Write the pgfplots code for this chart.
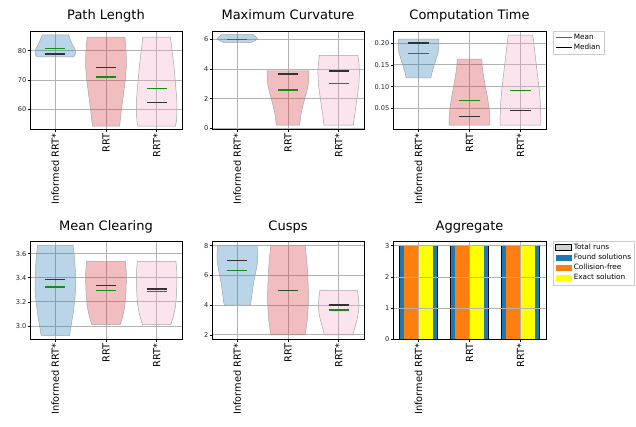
\documentclass[border=0pt]{standalone}
\usepackage{fontspec}
\setmainfont{DejaVu Sans}
\usepackage{pgfplots}
\pgfplotsset{compat=1.18, /pgf/number format/assume math mode=true}
\definecolor{cblue}{HTML}{1F77B4}
\definecolor{cred}{HTML}{D62728}
\definecolor{cpink}{HTML}{F7A6C9}
\definecolor{mgreen}{HTML}{108F10}
\definecolor{tblue}{HTML}{1F77B4}
\definecolor{torange}{HTML}{FF7F0E}
\definecolor{tyellow}{HTML}{FFFF00}
\pgfplotsset{
  vio/.style={
    scale only axis, width=152pt, height=98.5pt, anchor=south west,
    xmin=0.5, xmax=3.5, xtick={1,2,3}, xticklabels={Informed RRT*,RRT,RRT*},
    xticklabel style={rotate=90, anchor=east, font=\fontsize{9.8}{10}\selectfont, inner sep=1.5pt},
    yticklabel style={font=\fontsize{6.6}{7}\selectfont, inner sep=1pt, text=black!85},
    tick align=outside, xtick pos=bottom, ytick pos=left, major tick length=2.5pt,
    tick style={black, line width=0.6pt},
    grid=major, grid style={black!30, line width=0.8pt},
    axis line style={line width=0.8pt},
    title style={font=\fontsize{13}{14}\selectfont, anchor=base, at={(0.5,1)}, yshift=5pt},
  },
  vedge/.style={draw=black!35, line width=0.5pt},
  vA/.style={fill=cblue, fill opacity=0.3, vedge},
  vB/.style={fill=cred, fill opacity=0.3, vedge},
  vC/.style={fill=cpink, fill opacity=0.3, vedge},
  mean/.style={mgreen, line width=1.3pt},
  med/.style={black!80, line width=1.3pt},
  leg/.style={legend style={at={(1.045,1.005)}, anchor=north west, draw=black!20,
      fill=white, font=\fontsize{7.3}{8.5}\selectfont, inner sep=2pt,
      nodes={inner sep=1.5pt}, cells={anchor=west}}},
}
\begin{document}
\begin{tikzpicture}
\path[use as bounding box, clip] (0,0) rectangle (636pt,426pt);
\fill[white] (0,0) rectangle (636pt,426pt);

% ---------- Path Length ----------
\begin{axis}[vio, at={(30pt,296.5pt)}, ymin=53.15, ymax=86.7, ytick={60,70,80}, title={Path Length}]
\addplot[vA] coordinates {(0.64,77.9)(0.61,78.5)(0.60,79.5)(0.61,80.5)(0.66,82)(0.70,83.5)(0.74,85.4)
 (1.26,85.4)(1.30,83.5)(1.34,82)(1.39,80.5)(1.40,79.5)(1.39,78.5)(1.36,77.9)(0.64,77.9)};
\addplot[vB] coordinates {(1.73,54.3)(1.71,58)(1.68,62)(1.65,66)(1.62,70)(1.60,74)(1.60,78)(1.61,82)(1.63,84.6)
 (2.37,84.6)(2.39,82)(2.40,78)(2.40,74)(2.38,70)(2.35,66)(2.32,62)(2.29,58)(2.27,54.3)(1.73,54.3)};
\addplot[vC] coordinates {(2.63,54.3)(2.61,56)(2.60,59)(2.60,63)(2.62,67)(2.64,71)(2.66,75)(2.69,79)(2.71,82)(2.73,84.6)
 (3.27,84.6)(3.29,82)(3.31,79)(3.34,75)(3.36,71)(3.38,67)(3.40,63)(3.40,59)(3.39,56)(3.37,54.3)(2.63,54.3)};
\addplot[med] coordinates {(0.8,78.9)(1.2,78.9)};
\addplot[med] coordinates {(1.8,74.2)(2.2,74.2)};
\addplot[med] coordinates {(2.8,62.4)(3.2,62.4)};
\addplot[mean] coordinates {(0.8,80.7)(1.2,80.7)};
\addplot[mean] coordinates {(1.8,71.0)(2.2,71.0)};
\addplot[mean] coordinates {(2.8,67.1)(3.2,67.1)};
\end{axis}

% ---------- Maximum Curvature ----------
\begin{axis}[vio, at={(212pt,296.5pt)}, ymin=-0.07, ymax=6.55, ytick={0,2,4,6}, title={Maximum Curvature}]
\addplot[vA] coordinates {(0.73,5.78)(0.64,5.92)(0.60,6.02)(0.62,6.12)(0.69,6.31)
 (1.31,6.31)(1.38,6.12)(1.40,6.02)(1.36,5.92)(1.27,5.78)(0.73,5.78)};
\addplot[vB] coordinates {(1.77,0.22)(1.76,0.5)(1.74,1.0)(1.71,1.5)(1.67,2.0)(1.63,2.5)(1.60,3.0)(1.59,3.4)(1.59,3.87)
 (2.41,3.87)(2.41,3.4)(2.40,3.0)(2.37,2.5)(2.33,2.0)(2.29,1.5)(2.26,1.0)(2.24,0.5)(2.23,0.22)(1.77,0.22)};
\addplot[vC] coordinates {(2.71,0.22)(2.69,0.8)(2.66,1.5)(2.63,2.2)(2.60,3.0)(2.59,3.8)(2.60,4.4)(2.62,4.91)
 (3.38,4.91)(3.40,4.4)(3.41,3.8)(3.40,3.0)(3.37,2.2)(3.34,1.5)(3.31,0.8)(3.29,0.22)(2.71,0.22)};
\addplot[med] coordinates {(0.8,6.0)(1.2,6.0)};
\addplot[med] coordinates {(1.8,3.65)(2.2,3.65)};
\addplot[med] coordinates {(2.8,3.87)(3.2,3.87)};
\addplot[mean, line width=0.9pt] coordinates {(0.8,6.0)(1.2,6.0)};
\addplot[mean] coordinates {(1.8,2.58)(2.2,2.58)};
\addplot[mean] coordinates {(2.8,3.02)(3.2,3.02)};
\end{axis}

% ---------- Computation Time ----------
\begin{axis}[vio, leg, at={(393pt,296.5pt)}, width=153pt, ymin=0.0017, ymax=0.2275, ytick={0.05,0.10,0.15,0.20},
  yticklabel style={/pgf/number format/.cd, fixed, fixed zerofill, precision=2},
  legend image code/.code={\draw[#1] (0pt,0pt) -- (16pt,0pt);},
  title={Computation Time}]
\addplot[vA, forget plot] coordinates {(0.76,0.120)(0.73,0.135)(0.69,0.150)(0.65,0.165)(0.61,0.180)(0.60,0.195)(0.60,0.209)
 (1.40,0.209)(1.40,0.195)(1.39,0.180)(1.35,0.165)(1.31,0.150)(1.27,0.135)(1.24,0.120)(0.76,0.120)};
\addplot[vB, forget plot] coordinates {(1.60,0.012)(1.60,0.025)(1.61,0.045)(1.64,0.07)(1.68,0.095)(1.72,0.12)(1.75,0.145)(1.76,0.163)
 (2.24,0.163)(2.25,0.145)(2.28,0.12)(2.32,0.095)(2.36,0.07)(2.39,0.045)(2.40,0.025)(2.40,0.012)(1.60,0.012)};
\addplot[vC, forget plot] coordinates {(2.60,0.012)(2.60,0.03)(2.61,0.06)(2.63,0.09)(2.66,0.12)(2.69,0.15)(2.72,0.18)(2.74,0.20)(2.76,0.218)
 (3.24,0.218)(3.26,0.20)(3.28,0.18)(3.31,0.15)(3.34,0.12)(3.37,0.09)(3.39,0.06)(3.40,0.03)(3.40,0.012)(2.60,0.012)};
\addplot[med, forget plot] coordinates {(0.8,0.200)(1.2,0.200)};
\addplot[med, forget plot] coordinates {(1.8,0.031)(2.2,0.031)};
\addplot[med, forget plot] coordinates {(2.8,0.0447)(3.2,0.0447)};
\addplot[mean, forget plot] coordinates {(0.8,0.176)(1.2,0.176)};
\addplot[mean, forget plot] coordinates {(1.8,0.068)(2.2,0.068)};
\addplot[mean, forget plot] coordinates {(2.8,0.0906)(3.2,0.0906)};
\addlegendimage{mgreen, line width=1.2pt}\addlegendentry{Mean}
\addlegendimage{black, line width=1.2pt}\addlegendentry{Median}
\end{axis}

% ---------- Mean Clearing ----------
\begin{axis}[vio, at={(30pt,86.5pt)}, ymin=2.888, ymax=3.705, ytick={3.0,3.2,3.4,3.6},
  yticklabel style={/pgf/number format/.cd, fixed, fixed zerofill, precision=1},
  title={Mean Clearing}]
\addplot[vA] coordinates {(0.72,2.921)(0.69,3.0)(0.65,3.1)(0.62,3.2)(0.60,3.3)(0.60,3.4)(0.61,3.5)(0.63,3.6)(0.65,3.669)
 (1.35,3.669)(1.37,3.6)(1.39,3.5)(1.40,3.4)(1.40,3.3)(1.38,3.2)(1.35,3.1)(1.31,3.0)(1.28,2.921)(0.72,2.921)};
\addplot[vB] coordinates {(1.72,3.011)(1.67,3.08)(1.63,3.16)(1.61,3.25)(1.60,3.35)(1.60,3.45)(1.62,3.537)
 (2.38,3.537)(2.40,3.45)(2.40,3.35)(2.39,3.25)(2.37,3.16)(2.33,3.08)(2.28,3.011)(1.72,3.011)};
\addplot[vC] coordinates {(2.72,3.011)(2.67,3.08)(2.63,3.16)(2.61,3.25)(2.60,3.35)(2.60,3.45)(2.62,3.537)
 (3.38,3.537)(3.40,3.45)(3.40,3.35)(3.39,3.25)(3.37,3.16)(3.33,3.08)(3.28,3.011)(2.72,3.011)};
\addplot[med] coordinates {(0.8,3.384)(1.2,3.384)};
\addplot[med] coordinates {(1.8,3.336)(2.2,3.336)};
\addplot[med] coordinates {(2.8,3.307)(3.2,3.307)};
\addplot[mean] coordinates {(0.8,3.324)(1.2,3.324)};
\addplot[mean] coordinates {(1.8,3.295)(2.2,3.295)};
\addplot[mean] coordinates {(2.8,3.285)(3.2,3.285)};
\end{axis}

% ---------- Cusps ----------
\begin{axis}[vio, at={(212pt,86.5pt)}, ymin=1.69, ymax=8.31, ytick={2,4,6,8}, title={Cusps}]
\addplot[vA] coordinates {(0.74,4)(0.72,4.5)(0.70,5)(0.68,5.5)(0.65,6)(0.62,6.5)(0.60,7)(0.60,7.5)(0.61,8)
 (1.39,8)(1.40,7.5)(1.40,7)(1.38,6.5)(1.35,6)(1.32,5.5)(1.30,5)(1.28,4.5)(1.26,4)(0.74,4)};
\addplot[vB] coordinates {(1.66,2)(1.62,3)(1.60,4)(1.60,5)(1.61,6)(1.63,7)(1.66,8)
 (2.34,8)(2.37,7)(2.39,6)(2.40,5)(2.40,4)(2.38,3)(2.34,2)(1.66,2)};
\addplot[vC] coordinates {(2.72,2)(2.68,2.5)(2.64,3)(2.61,3.5)(2.60,4)(2.61,4.5)(2.63,5)
 (3.37,5)(3.39,4.5)(3.40,4)(3.39,3.5)(3.36,3)(3.32,2.5)(3.28,2)(2.72,2)};
\addplot[med] coordinates {(0.8,7)(1.2,7)};
\addplot[mean] coordinates {(1.8,5)(2.2,5)};
\addplot[med, opacity=0.75] coordinates {(1.8,5)(2.2,5)};
\addplot[med] coordinates {(2.8,4)(3.2,4)};
\addplot[mean] coordinates {(0.8,6.33)(1.2,6.33)};
\addplot[mean] coordinates {(2.8,3.67)(3.2,3.67)};
\end{axis}

% ---------- Aggregate ----------
\begin{axis}[vio, leg, axis on top, at={(393pt,86.5pt)}, width=153pt, ymin=0, ymax=3.15, ytick={0,1,2,3},
  legend image code/.code={\path[#1] (0pt,-3pt) rectangle (16pt,3pt);},
  title={Aggregate}]
\addplot[ybar, bar shift=0, bar width=0.73, fill=black!18, draw=black, line width=1.2pt] coordinates {(1,3)(2,3)(3,3)};
\addlegendentry{Total runs}
\addplot[ybar, bar shift=0, bar width=0.73, fill=tblue, draw=none] coordinates {(1,3)(2,3)(3,3)};
\addlegendentry{Found solutions}
\addplot[ybar, bar shift=-0.14, bar width=0.28, fill=torange, draw=none] coordinates {(1,3)(2,3)(3,3)};
\addlegendentry{Collision-free}
\addplot[ybar, bar shift=0.14, bar width=0.28, fill=tyellow, draw=none] coordinates {(1,3)(2,3)(3,3)};
\addlegendentry{Exact solution}
\end{axis}
\end{tikzpicture}
\end{document}
